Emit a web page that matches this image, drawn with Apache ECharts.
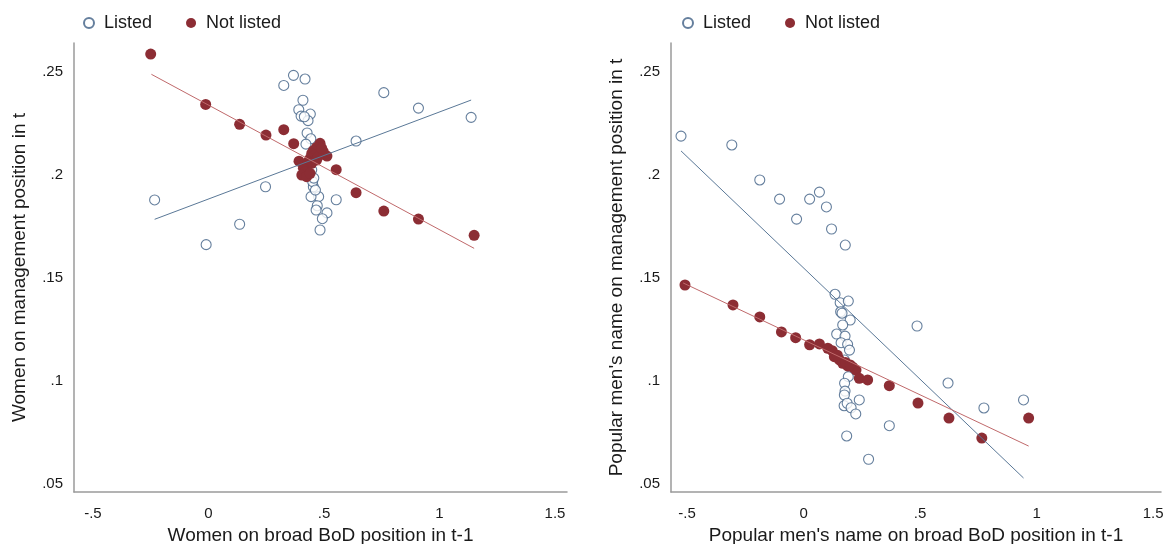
<!DOCTYPE html>
<html>
<head>
<meta charset="utf-8">
<script src="https://cdn.jsdelivr.net/npm/echarts@6/dist/echarts.min.js"></script>
<style>
html, body { margin: 0; padding: 0; background: #fff; }
#main { width: 1166px; height: 544px; }
</style>
</head>
<body>
<div id="main"></div>
<script>
// tick labels shared by both panels
var xTicks = [-0.5, 0, 0.5, 1, 1.5];
var yTicks = [0.05, 0.1, 0.15, 0.2, 0.25];

// left panel: women
var listedWomen = [
  [-0.233, 0.1879], [-0.01, 0.1662], [0.135, 0.1761], [0.247, 0.1943], [0.326, 0.2435],
  [0.368, 0.2484], [0.418, 0.2466], [0.409, 0.2363], [0.391, 0.2317], [0.401, 0.2286],
  [0.441, 0.2296], [0.431, 0.2264], [0.415, 0.2283], [0.427, 0.2204], [0.443, 0.2176],
  [0.422, 0.215], [0.639, 0.2165], [0.759, 0.24], [0.909, 0.2325], [1.137, 0.228],
  [0.553, 0.188], [0.477, 0.1895], [0.444, 0.1895], [0.454, 0.1943], [0.451, 0.1968],
  [0.463, 0.1927], [0.471, 0.1851], [0.466, 0.183], [0.513, 0.1816], [0.493, 0.1788],
  [0.483, 0.1733], [0.44, 0.2005], [0.456, 0.1985], [0.447, 0.2025]
];
var notListedWomen = [
  [-0.25, 0.2587], [-0.012, 0.2343], [0.135, 0.2246], [0.249, 0.2194], [0.326, 0.222],
  [0.369, 0.2152], [0.392, 0.2067], [0.513, 0.2092], [0.553, 0.2026], [0.639, 0.1914],
  [0.759, 0.1825], [0.909, 0.1786], [1.15, 0.1707],
  [0.483, 0.2154], [0.468, 0.2134], [0.454, 0.2118], [0.447, 0.2105], [0.461, 0.2097],
  [0.497, 0.2113], [0.44, 0.2081], [0.432, 0.2065], [0.447, 0.2057], [0.425, 0.2044],
  [0.411, 0.2033], [0.418, 0.2016], [0.404, 0.2], [0.425, 0.1992], [0.44, 0.2008],
  [0.468, 0.2073], [0.475, 0.2089], [0.49, 0.213]
];
var listedFitWomen = [[-0.233, 0.1785], [1.137, 0.2364]];
var notListedFitWomen = [[-0.247, 0.2489], [1.15, 0.1644]];

// right panel: popular men's names
var listedMen = [
  [-0.526, 0.2189], [-0.308, 0.2146], [-0.188, 0.1976], [-0.103, 0.1883], [-0.03, 0.1786],
  [0.026, 0.1883], [0.068, 0.1917], [0.098, 0.1845], [0.12, 0.1738], [0.179, 0.166],
  [0.135, 0.1421], [0.157, 0.138], [0.192, 0.1388], [0.159, 0.1336], [0.165, 0.1329],
  [0.2, 0.1296], [0.168, 0.1272], [0.142, 0.1228], [0.178, 0.1218], [0.161, 0.1186],
  [0.189, 0.1178], [0.197, 0.115], [0.175, 0.1102], [0.192, 0.1021], [0.176, 0.0989],
  [0.178, 0.0951], [0.175, 0.0932], [0.174, 0.088], [0.187, 0.0892], [0.204, 0.087],
  [0.239, 0.0908], [0.224, 0.084], [0.368, 0.0783], [0.185, 0.0733], [0.279, 0.062],
  [0.487, 0.1267], [0.62, 0.099], [0.774, 0.0869], [0.944, 0.0908]
];
var notListedMen = [
  [-0.509, 0.1466], [-0.303, 0.1369], [-0.188, 0.1311], [-0.095, 0.1238], [-0.034, 0.121],
  [0.026, 0.1176], [0.068, 0.118], [0.104, 0.1159], [0.123, 0.1147], [0.132, 0.1118],
  [0.154, 0.1102], [0.168, 0.1086], [0.189, 0.1073], [0.211, 0.1067], [0.225, 0.1053],
  [0.239, 0.1013], [0.275, 0.1005], [0.368, 0.0977], [0.491, 0.0893], [0.624, 0.082],
  [0.765, 0.0723], [0.966, 0.082], [0.145, 0.1125], [0.18, 0.109], [0.2, 0.1078]
];
var listedFitMen = [[-0.526, 0.2117], [0.944, 0.0529]];
var notListedFitMen = [[-0.517, 0.1476], [0.966, 0.0684]];

var blue = '#3f5f85';
var red = '#8c2d34';
var textColor = '#1a1a1a';

function fmt(v) {
  if (v === 0) return '0';
  return String(v).replace('0.', '.');
}

function xAxis(idx, name, min, max) {
  return {
    type: 'value', gridIndex: idx, min: min, max: max,
    name: name, nameLocation: 'middle', nameGap: 32,
    nameTextStyle: { fontSize: 19, color: textColor, fontFamily: 'Liberation Sans' },
    axisLine: { show: true, onZero: false, lineStyle: { color: '#9a9a9a', width: 1.5 } },
    axisTick: { show: false },
    splitLine: { show: false },
    axisLabel: {
      customValues: xTicks, formatter: fmt, margin: 14,
      fontSize: 15, color: textColor, fontFamily: 'Liberation Sans'
    }
  };
}

function yAxis(idx, name) {
  return {
    type: 'value', gridIndex: idx, min: 0.0461, max: 0.2641,
    name: name, nameLocation: 'middle', nameGap: 45,
    nameTextStyle: { fontSize: 19, color: textColor, fontFamily: 'Liberation Sans' },
    axisLine: { show: true, onZero: false, lineStyle: { color: '#9a9a9a', width: 1.5 } },
    axisTick: { show: false },
    splitLine: { show: false },
    axisLabel: {
      customValues: yTicks, formatter: fmt, margin: 11,
      fontSize: 15, color: textColor, fontFamily: 'Liberation Sans'
    }
  };
}

function scatter(name, idx, data, hollow) {
  return {
    name: name, type: 'scatter', xAxisIndex: idx, yAxisIndex: idx,
    data: data, symbol: 'circle', symbolSize: hollow ? 10 : 11,
    itemStyle: hollow
      ? { color: '#ffffff', borderColor: blue, borderWidth: 1.1 }
      : { color: red, opacity: 1 },
    emphasis: { disabled: true }
  };
}

function fit(name, idx, data, color) {
  return {
    name: name, type: 'line', xAxisIndex: idx, yAxisIndex: idx,
    data: data, showSymbol: false, symbol: 'none',
    lineStyle: { color: color, width: 1 },
    emphasis: { disabled: true }
  };
}

function legend(left) {
  return {
    left: left, top: 9, itemWidth: 10, itemHeight: 10, itemGap: 34,
    data: [{ name: 'Listed', icon: 'circle' }, { name: 'Not listed', icon: 'circle' }],
    textStyle: { fontSize: 18, color: textColor, fontFamily: 'Liberation Sans', padding: [0, 0, 0, 5] },
    selectedMode: false
  };
}

var chart = echarts.init(document.getElementById('main'), null, { renderer: 'canvas' });
chart.setOption({
  animation: false,
  backgroundColor: '#ffffff',
  legend: [legend(78), legend(677)],
  grid: [
    { left: 74, top: 43, width: 493, height: 449, outerBoundsMode: 'none' },
    { left: 671, top: 43, width: 490, height: 449, outerBoundsMode: 'none' }
  ],
  xAxis: [
    xAxis(0, 'Women on broad BoD position in t-1', -0.582, 1.552),
    xAxis(1, "Popular men's name on broad BoD position in t-1", -0.569, 1.534)
  ],
  yAxis: [
    yAxis(0, 'Women on management position in t'),
    yAxis(1, "Popular men's name on management position in t")
  ],
  series: [
    scatter('Listed', 0, listedWomen, true),
    scatter('Not listed', 0, notListedWomen, false),
    fit('Listed fit', 0, listedFitWomen, '#5a7897'),
    fit('Not listed fit', 0, notListedFitWomen, '#c0696b'),
    scatter('Listed', 1, listedMen, true),
    scatter('Not listed', 1, notListedMen, false),
    fit('Listed fit', 1, listedFitMen, '#5a7897'),
    fit('Not listed fit', 1, notListedFitMen, '#c0696b')
  ]
});
</script>
</body>
</html>
